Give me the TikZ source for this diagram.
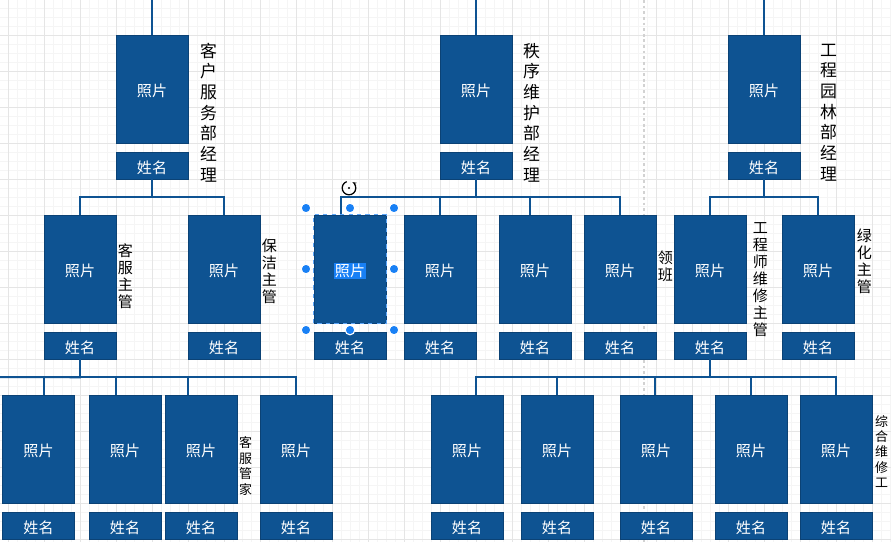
\documentclass[tikz,border=0pt]{standalone}
\usepackage{fontspec}
\setmainfont{Noto Sans CJK SC}
\usepackage{xcolor}
\usetikzlibrary{calc,arrows.meta}
\definecolor{boxblue}{RGB}{14,83,146}
\definecolor{gridminor}{RGB}{245,245,245}
\definecolor{gridmajor}{RGB}{229,229,229}
\definecolor{selblue}{RGB}{24,128,245}

\begin{document}
\begin{tikzpicture}[x=0.025cm, y=-0.025cm,
    photo/.style={fill=boxblue, draw=boxblue!80!black, line width=0.4pt,
        minimum width=1.8cm, minimum height=2.7cm, inner sep=0pt,
        text height=1.1em, text depth=0pt,
        text=white, font=\fontsize{10.7}{12}\selectfont},
    namebox/.style={photo, minimum height=0.675cm},
    link/.style={draw=boxblue, line width=1.4pt},
    biglabel/.style={align=center, inner sep=0pt, font=\fontsize{12}{14.7}\selectfont},
    midlabel/.style={biglabel, font=\fontsize{10.7}{12.1}\selectfont},
    smalllabel/.style={biglabel, font=\fontsize{9.2}{11}\selectfont}]
    \useasboundingbox (0,0) rectangle (891,542);

    % Grid
    \foreach \x in {-1,8,...,891} \draw[gridminor, line width=0.4pt] (\x,0) -- (\x,542);
    \foreach \y in {-1,8,...,542} \draw[gridminor, line width=0.4pt] (0,\y) -- (891,\y);
    \foreach \x in {8,44,...,891} \draw[gridmajor, line width=0.5pt] (\x,0) -- (\x,542);
    \foreach \y in {-1,35,...,542} \draw[gridmajor, line width=0.5pt] (0,\y) -- (891,\y);
    \draw[gray!35, line width=0.8pt, dash pattern=on 2pt off 2pt] (644,0) -- (644,542);

    % Managers
    \foreach \id/\x in {A/152, B/476, C/764} {
        \node[photo] (p\id) at (\x,89) {照片};
        \node[namebox] (n\id) at (\x,165.5) {姓名};
    }
    \node[biglabel] (tA) at (208.5,112.5) {客\\户\\服\\务\\部\\经\\理};
    \node[biglabel] (tB) at (531.5,112.5) {秩\\序\\维\\护\\部\\经\\理};
    \node[biglabel] (tC) at (828.5,112.5) {工\\程\\园\\林\\部\\经\\理};

    % Supervisors
    \foreach \id/\x in {A1/80, A2/224, B2/440, B3/535, B4/620, C1/710, C2/818} {
        \node[photo] (p\id) at (\x,269) {照片};
        \node[namebox] (n\id) at (\x,345.5) {姓名};
    }
    \node[photo] (pB1) at (350,269) {\setlength\fboxsep{0.6pt}\colorbox{selblue}{照片}};
    \node[namebox] (nB1) at (350,345.5) {姓名};
    \node[midlabel] (tA1) at (125.5,276) {客\\服\\主\\管};
    \node[midlabel] (tA2) at (269.5,271) {保\\洁\\主\\管};
    \node[midlabel] (tB4) at (665.5,266) {领\\班};
    \node[midlabel] (tC1) at (760.5,279.5) {工\\程\\师\\维\\修\\主\\管};
    \node[midlabel] (tC2) at (864.5,261.5) {绿\\化\\主\\管};

    % Staff
    \foreach \id/\x in {A11/38.5, A12/125, A13/201, A14/296, C11/467, C12/557, C13/656, C14/751, C15/836} {
        \node[photo] (p\id) at (\x,449) {照片};
        \node[namebox] (n\id) at (\x,525.5) {姓名};
    }
    \node[smalllabel] (tA13) at (245.5,466) {客\\服\\管\\家};
    \node[smalllabel] (tC15) at (881.5,451.5) {综\\合\\维\\修\\工};

    % Connectors
    \foreach \id in {A,B,C} {
        \coordinate (in\id) at ($(p\id.north)+(0,-40)$);
        \draw[link] (in\id) -- (p\id.north);
    }
    \foreach \c in {A1,A2} \draw[link] (nA.south) -- ++(0,18) -| (p\c.north);
    \foreach \c/\dx in {B1/-9, B2/0, B3/-5, B4/0}
        \draw[link] (nB.south) -- ++(0,18) -| ($(p\c.north)+(\dx,0)$);
    \foreach \c in {C1,C2} \draw[link] (nC.south) -- ++(0,18) -| (p\c.north);
    \coordinate (offA) at (-10,377);
    \draw[link] (nA1.south) -- ++(0,18) -- (offA);
    \foreach \c/\dx in {A11/5.5, A12/-9, A13/-13, A14/0}
        \draw[link] (nA1.south) -- ++(0,18) -| ($(p\c.north)+(\dx,0)$);
    \foreach \c/\dx in {C11/9, C12/0, C13/-1, C14/0, C15/0}
        \draw[link] (nC1.south) -- ++(0,18) -| ($(p\c.north)+(\dx,0)$);

    % Selection
    \draw[selblue!70, dashed, line width=0.6pt] (pB1.south west) rectangle (pB1.north east);
    \foreach \hx/\hy in {306/208, 350/208, 394/208, 306/269, 394/269, 306/330, 350/330, 394/330}
        \filldraw[fill=selblue, draw=white, line width=0.8pt] (\hx,\hy) circle (0.12cm);
    \draw[line width=0.9pt, -{Stealth[length=3pt]}] (349,188) ++(110:0.17cm) arc (110:420:0.17cm);
    \fill (349,188) circle (0.03cm);
\end{tikzpicture}
\end{document}
